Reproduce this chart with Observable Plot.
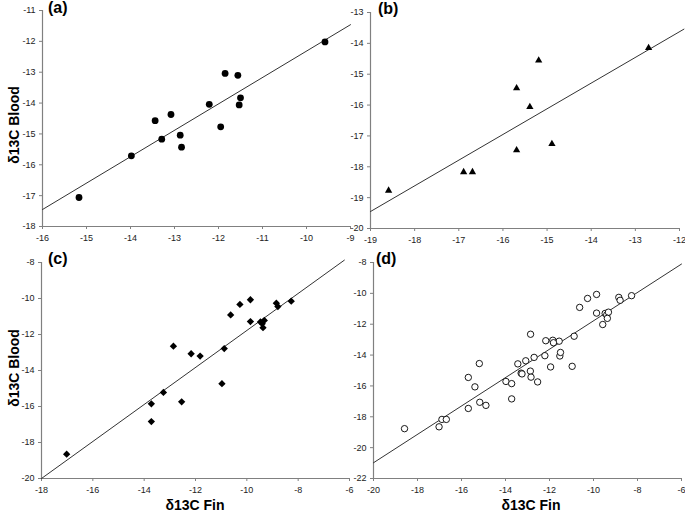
<!DOCTYPE html>
<html><head><meta charset="utf-8">
<script src="https://cdn.jsdelivr.net/npm/d3@7"></script>
<script src="https://cdn.jsdelivr.net/npm/@observablehq/plot@0.6"></script>
<style>
body{margin:0;background:#fff;}
#wrap{position:relative;width:685px;height:514px;font-family:Arial,"Liberation Sans",sans-serif;color:#000;overflow:hidden;}
.panel{position:absolute;}
.panel svg{overflow:visible;background:transparent;}
.lab{position:absolute;font-weight:bold;font-size:16px;line-height:16px;}
.ylab{position:absolute;width:120px;height:16px;line-height:16px;text-align:center;font-weight:bold;font-size:14px;transform:rotate(-90deg);white-space:nowrap;}
.xlab{position:absolute;width:200px;height:16px;line-height:16px;text-align:center;font-weight:bold;font-size:14px;white-space:nowrap;}
</style></head>
<body><div id="wrap"></div>
<script>
// Panel (a)
const aFin   = [-15.17,-13.98,-13.44,-13.29,-13.08,-12.87,-12.84,-12.21,-11.95,-11.85,-11.56,-11.53,-11.50,-9.58];
const aBlood = [-17.06,-15.71,-14.57,-15.17,-14.37,-15.04,-15.43,-14.04,-14.77,-13.04,-13.10,-14.06,-13.83,-12.02];
const aLineFin = [-16, -9], aLineBlood = [-17.45, -11.46];
const aXTicks = [-16,-15,-14,-13,-12,-11,-10,-9];
const aYTicks = [-18,-17,-16,-15,-14,-13,-12,-11];

// Panel (b)
const bFin   = [-18.59,-16.89,-16.69,-15.69,-15.69,-15.39,-15.19,-14.89,-12.70];
const bBlood = [-18.77,-18.17,-18.17,-15.45,-17.46,-16.06,-14.55,-17.26,-14.15];
const bLineFin = [-19, -11.9], bLineBlood = [-19.45, -13.54];
const bXTicks = [-19,-18,-17,-16,-15,-14,-13,-12];
const bYTicks = [-20,-19,-18,-17,-16,-15,-14,-13];

// Panel (c)
const cFin   = [-17.02,-13.72,-13.72,-13.25,-12.54,-12.86,-12.17,-11.82,-10.97,-10.88,-10.63,-10.27,-9.86,-9.86,-9.47,-9.40,-9.32,-9.37,-8.85,-8.79,-8.27];
const cBlood = [-18.65,-15.85,-16.84,-15.22,-15.74,-12.65,-13.07,-13.20,-14.73,-12.78,-10.91,-10.33,-10.07,-11.28,-11.30,-11.40,-11.22,-11.62,-10.26,-10.45,-10.15];
const cLineFin = [-18, -6.2], cLineBlood = [-20, -7.87];
const cXTicks = [-18,-16,-14,-12,-10,-8,-6];
const cYTicks = [-20,-18,-16,-14,-12,-10,-8];

// Panel (d): all fish pooled (a + b + c)
const dFin   = [...aFin, ...bFin, ...cFin];
const dBlood = [...aBlood, ...bBlood, ...cBlood];
const dLineFin = [-20, -6], dLineBlood = [-20.98, -8.1];
const dXTicks = [-20,-18,-16,-14,-12,-10,-8,-6];
const dYTicks = [-22,-20,-18,-16,-14,-12,-10,-8];

const toRows = (xs, ys) => xs.map((x, i) => ({x, y: ys[i]}));
const fmt = d => String(d);
const wrap = document.getElementById("wrap");

function panel({fin, blood, lineFin, lineBlood, xTicks, yTicks, dotOpts, box, m}) {
  const xDom = [xTicks[0], xTicks[xTicks.length-1]];
  const yDom = [yTicks[0], yTicks[yTicks.length-1]];
  const p = Plot.plot({
    width: box.w, height: box.h,
    marginLeft: m[0], marginRight: m[1], marginTop: m[2], marginBottom: m[3],
    style: {fontFamily: "Arial, 'Liberation Sans', sans-serif", fontSize: "9px", background: "transparent", overflow: "visible"},
    x: {domain: xDom},
    y: {domain: yDom},
    marks: [
      Plot.axisX({ticks: xTicks, tickSize: 3, tickPadding: 5, tickFormat: fmt, stroke: "#808080", fill: "#222", label: null}),
      Plot.axisY({ticks: yTicks, tickSize: 3, tickPadding: 4, tickFormat: fmt, stroke: "#808080", fill: "#222", label: null}),
      Plot.ruleY([yDom[0]], {stroke: "#808080", strokeWidth: 1.2}),
      Plot.ruleX([xDom[0]], {stroke: "#808080", strokeWidth: 1.2}),
      Plot.line(toRows(lineFin, lineBlood), {x: "x", y: "y", stroke: "#333", strokeWidth: 1}),
      Plot.dot(toRows(fin, blood), {x: "x", y: "y", ...dotOpts})
    ]
  });
  const d = document.createElement("div");
  d.className = "panel";
  d.style.left = box.l + "px"; d.style.top = box.t + "px";
  d.appendChild(p);
  wrap.appendChild(d);
}

panel({fin: aFin, blood: aBlood, lineFin: aLineFin, lineBlood: aLineBlood, xTicks: aXTicks, yTicks: aYTicks,
  dotOpts: {symbol: "circle", r: 3.4, fill: "#000"}, box: {l: 0, t: 0, w: 360, h: 250}, m: [42, 10, 10, 24]});
panel({fin: bFin, blood: bBlood, lineFin: bLineFin, lineBlood: bLineBlood, xTicks: bXTicks, yTicks: bYTicks,
  dotOpts: {symbol: "triangle", r: 2.7, fill: "#000"}, box: {l: 340, t: 0, w: 345, h: 250}, m: [30, 6, 12, 22]});
panel({fin: cFin, blood: cBlood, lineFin: cLineFin, lineBlood: cLineBlood, xTicks: cXTicks, yTicks: cYTicks,
  dotOpts: {symbol: "diamond2", r: 3.3, fill: "#000"}, box: {l: 0, t: 250, w: 360, h: 250}, m: [41, 11, 12, 22]});
panel({fin: dFin, blood: dBlood, lineFin: dLineFin, lineBlood: dLineBlood, xTicks: dXTicks, yTicks: dYTicks,
  dotOpts: {symbol: "circle", r: 3.2, fill: "#fff", stroke: "#000", strokeWidth: 0.9}, box: {l: 340, t: 250, w: 345, h: 250}, m: [33, 4, 12, 22]});

function addDiv(cls, text, left, top) {
  const e = document.createElement("div");
  e.className = cls; e.textContent = text;
  e.style.left = left + "px"; e.style.top = top + "px";
  wrap.appendChild(e);
}
addDiv("lab", "(a)", 48, 0);
addDiv("lab", "(b)", 378, 1);
addDiv("lab", "(c)", 48, 251);
addDiv("lab", "(d)", 376, 251);
addDiv("ylab", "δ13C Blood", 14 - 60, 125 - 8);
addDiv("ylab", "δ13C Blood", 14 - 60, 368 - 8);
addDiv("xlab", "δ13C Fin", 195 - 100, 497);
addDiv("xlab", "δ13C Fin", 531 - 100, 497);
</script>
</body></html>
